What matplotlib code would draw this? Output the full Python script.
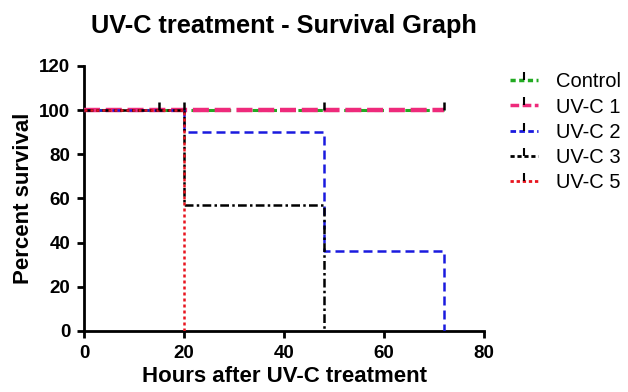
import matplotlib
matplotlib.use("Agg")
import matplotlib.pyplot as plt
from matplotlib.lines import Line2D

plt.rcParams['font.family'] = ['Liberation Sans', 'DejaVu Sans']

# step survival curves (time, percent)
ctrl_t = [0, 72]
ctrl_s = [100, 100]
uv1_t = [0, 72]
uv1_s = [100, 100]
uv2_t = [0, 20, 48, 72]
uv2_s = [100, 90, 36, 0]
uv3_t = [0, 20, 48]
uv3_s = [100, 57, 0]
uv5_t = [0, 20]
uv5_s = [100, 0]

# censored observations
cens_t = [15, 20, 48, 72]
cens_s = [100, 100, 100, 100]

labels = ["Control", "UV-C 1", "UV-C 2", "UV-C 3", "UV-C 5"]

fig = plt.figure(figsize=(6.28, 3.92), dpi=100)
ax = fig.add_axes([0.134, 0.156, 0.637, 0.676])

ax.step(ctrl_t, ctrl_s, where='post', color='#22aa22', lw=2.2, ls=(0, (3, 2)), zorder=3)
ax.step(uv1_t, uv1_s, where='post', color='#ee2a7b', lw=3.2, ls=(0, (3.6, 1.3)), zorder=4)
ax.step(uv2_t, uv2_s, where='post', color='#1a1adf', lw=1.8, ls=(0, (3.6, 2)), zorder=5)
ax.step(uv3_t, uv3_s, where='post', color='black', lw=1.8, ls=(0, (3.5, 1.3, 1, 1.3)), zorder=5)
ax.step(uv5_t, uv5_s, where='post', color='#e8141e', lw=1.8, ls=(0, (1.2, 1.2)), zorder=6)
ax.plot(cens_t, cens_s, ls='none', marker=2, ms=6, mew=1.8, color='black', zorder=7)

ax.set_xlim(0, 80)
ax.set_ylim(0, 120)
ax.set_xticks([0, 20, 40, 60, 80])
ax.set_yticks([0, 20, 40, 60, 80, 100, 120])
for s in ['top', 'right']:
    ax.spines[s].set_visible(False)
for s in ['left', 'bottom']:
    ax.spines[s].set_linewidth(2)
ax.tick_params(width=2, length=5, labelsize=13.5, pad=5)
for lab in ax.get_xticklabels() + ax.get_yticklabels():
    lab.set_fontweight('bold')

ax.set_xlabel("Hours after UV-C treatment", fontsize=16, fontweight='bold', labelpad=3)
ax.set_ylabel("Percent survival", fontsize=16, fontweight='bold', labelpad=4)
fig.text(0.452, 0.916, "UV-C treatment - Survival Graph", fontsize=18.3,
         fontweight='bold', ha='center', va='baseline')

handles = [
    Line2D([], [], color='#22aa22', lw=2.5, ls=(0, (1.5, 1)), marker=2, ms=6, mec='black', mew=1.5),
    Line2D([], [], color='#ee2a7b', lw=2.5, ls=(0, (2.5, 1)), marker=2, ms=6, mec='black', mew=1.5),
    Line2D([], [], color='#1a1adf', lw=2, ls=(0, (2, 1.2)), marker=2, ms=6, mec='black', mew=1.5),
    Line2D([], [], color='black', lw=2, ls=(0, (1.5, 1)), marker=2, ms=6, mec='black', mew=1.5),
    Line2D([], [], color='#e8141e', lw=2, ls=(0, (1.2, 1)), marker=2, ms=6, mec='black', mew=1.5),
]
ax.legend(handles, labels, loc='upper left', bbox_to_anchor=(1.065, 0.975),
          frameon=False, fontsize=14.5, handlelength=1.4, handletextpad=0.85,
          labelspacing=0.3, borderpad=0, borderaxespad=0)

fig.savefig("out.png", dpi=100)
